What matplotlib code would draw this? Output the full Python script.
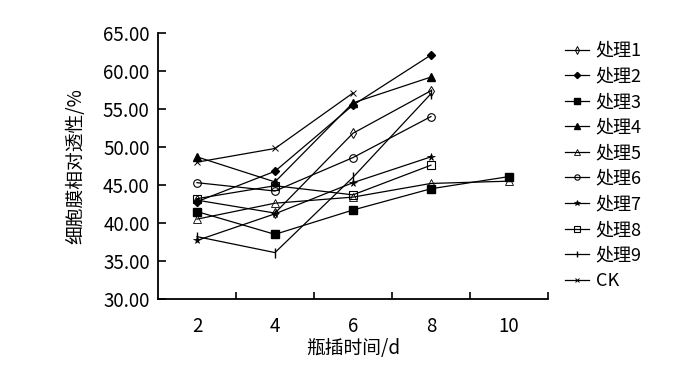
import matplotlib
matplotlib.use("Agg")
import matplotlib.pyplot as plt
from matplotlib.ticker import FormatStrFormatter

plt.rcParams['font.family'] = ['Noto Sans CJK SC', 'DejaVu Sans']

# data
days = [2, 4, 6, 8]
days_long = [2, 4, 6, 8, 10]
days_ck = [2, 4, 6]

t1 = [43.0, 41.3, 51.8, 57.4]
t2 = [42.8, 46.8, 55.5, 62.1]
t3 = [41.5, 38.5, 41.7, 44.5, 46.1]
t4 = [48.7, 45.4, 55.8, 59.2]
t5 = [40.5, 42.6, 43.4, 45.2, 45.5]
t6 = [45.3, 44.2, 48.6, 54.0]
t7 = [37.7, 41.2, 45.3, 48.7]
t8 = [43.2, 44.9, 43.7, 47.6]
t9 = [38.2, 36.1, 46.0, 57.0]
ck = [48.0, 49.8, 57.1]

names = ['处理1', '处理2', '处理3', '处理4', '处理5', '处理6', '处理7', '处理8', '处理9', 'CK']

fig = plt.figure(figsize=(7, 3.65), dpi=100)
ax = fig.add_axes([0.2257, 0.181, 0.557, 0.7286])

kw = dict(color='black', linewidth=0.9)
ax.plot(days, t1, marker='d', markersize=5.5, fillstyle='none', markeredgewidth=0.7, label=names[0], **kw)
ax.plot(days, t2, marker='D', markersize=4.5, label=names[1], **kw)
ax.plot(days_long, t3, marker='s', markersize=5.5, label=names[2], **kw)
ax.plot(days, t4, marker='^', markersize=5.5, label=names[3], **kw)
ax.plot(days_long, t5, marker='^', markersize=5.5, fillstyle='none', markeredgewidth=0.6, label=names[4], **kw)
ax.plot(days, t6, marker='o', markersize=5.5, fillstyle='none', markeredgewidth=0.8, label=names[5], **kw)
ax.plot(days, t7, marker='*', markersize=5.5, markeredgewidth=0.5, label=names[6], **kw)
ax.plot(days, t8, marker='s', markersize=5.5, fillstyle='none', markeredgewidth=0.8, label=names[7], **kw)
ax.plot(days, t9, marker='|', markersize=7, label=names[8], **kw)
ax.plot(days_ck, ck, marker='x', markersize=4.5, markeredgewidth=0.7, label=names[9], **kw)

ax.set_xlim(1, 11)
ax.set_ylim(30, 65)
ax.set_xticks([2, 4, 6, 8, 10])
ax.set_xticks([3, 5, 7, 9, 11], minor=True)
ax.tick_params(axis='x', which='major', length=0, labelsize=13.5, pad=12)
ax.tick_params(axis='x', which='minor', direction='in', length=5, width=1.2)
ax.set_yticks([30, 35, 40, 45, 50, 55, 60, 65])
ax.yaxis.set_major_formatter(FormatStrFormatter('%.2f'))
ax.tick_params(axis='y', direction='in', length=6, width=1.2, labelsize=13.5, pad=6)
ax.spines['top'].set_visible(False)
ax.spines['right'].set_visible(False)
ax.spines['left'].set_linewidth(1.3)
ax.spines['bottom'].set_linewidth(1.3)

ax.set_xlabel('瓶插时间/d', fontsize=13.5, labelpad=1)
ax.set_ylabel('细胞膜相对透性/%', fontsize=13.5, labelpad=12)

leg = ax.legend(loc='upper left', bbox_to_anchor=(0.797, 0.905), bbox_transform=fig.transFigure,
                frameon=False, fontsize=13, handlelength=1.3, handletextpad=0.4,
                labelspacing=0.42, borderaxespad=0, markerscale=0.7)

fig.savefig('out.png', dpi=100)
